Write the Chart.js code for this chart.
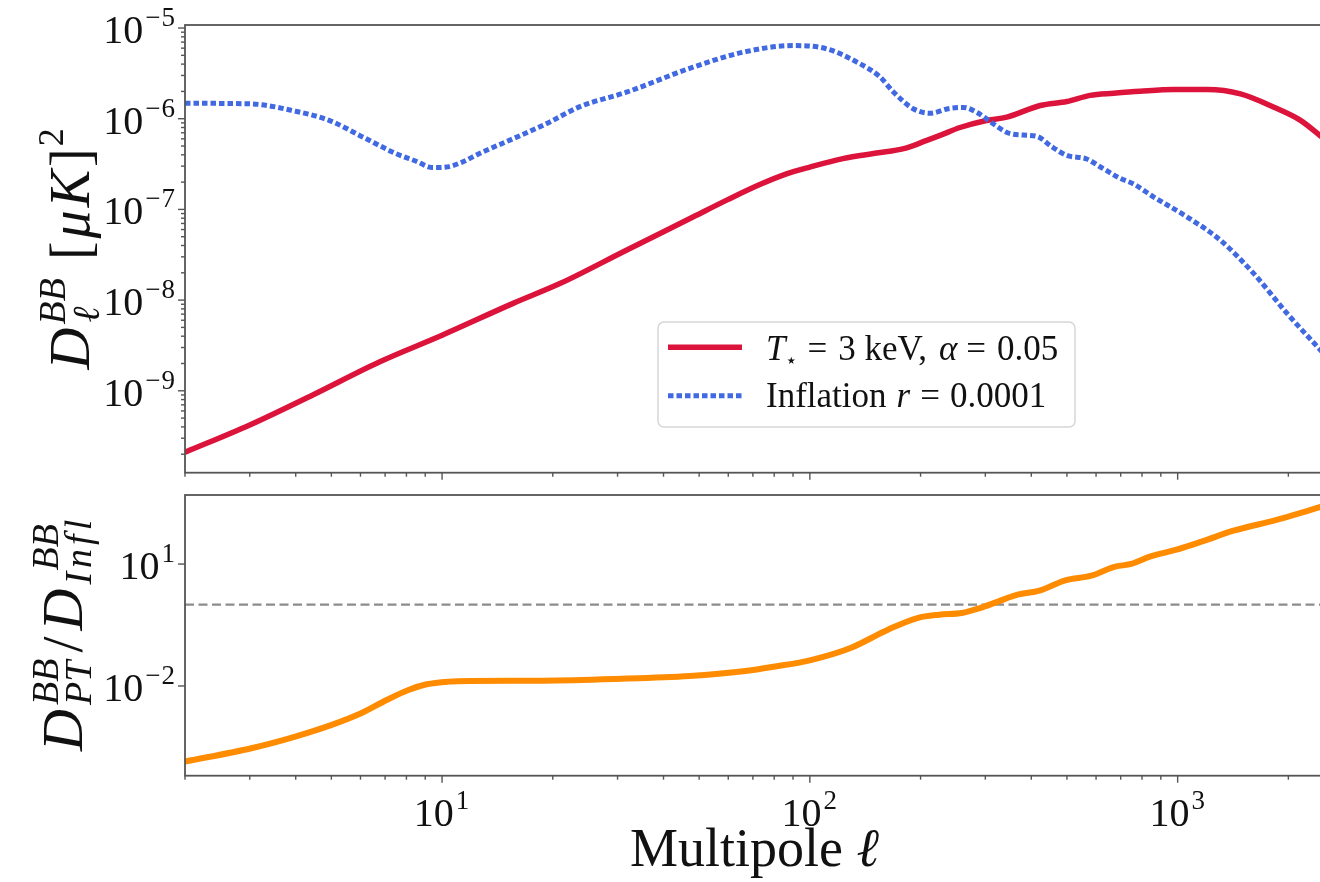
<!DOCTYPE html>
<html lang="en">

<head>
    <meta charset="UTF-8">
    <meta name="viewport" content="width=device-width, initial-scale=1.0">
    <title>BB spectra | phase transition vs inflation</title>

    <script src="https://cdn.jsdelivr.net/npm/chart.js"></script>

    <style>
        html, body { margin: 0; padding: 0; background: #fff; overflow: hidden; }
        #figura { position: relative; width: 1320px; height: 882px; overflow: hidden; }
        .painel { position: absolute; left: 0; width: 1324px; }
        #painelTopo { top: 0; height: 485px; }
        #painelBase { top: 480px; height: 402px; }
    </style>
</head>

<body>
    <div id="figura">
        <div class="painel" id="painelTopo"><canvas id="graficoTopo"></canvas></div>
        <div class="painel" id="painelBase"><canvas id="graficoBase"></canvas></div>
    </div>

<script>
// ---- data ----
const ellMin = 2, ellMax = 2500;

// D_l^BB for the phase transition (T* = 3 keV, alpha = 0.05)
const ellPT = [2, 3, 4.45, 6.75, 10, 15.6, 20.9, 31.7, 48.1, 60, 73.1, 86, 100, 123, 152, 180, 208, 226, 256, 300, 343, 423, 500, 578, 670, 791, 975, 1202, 1482, 1827, 2158, 2500];
const dlPT = [2.1e-10, 4.2e-10, 9.0e-10, 2.08e-9, 4.1e-9, 9.2e-9, 1.52e-8, 3.55e-8, 8.24e-8, 1.29e-7, 1.88e-7, 2.45e-7, 2.93e-7, 3.63e-7, 4.18e-7, 4.67e-7, 5.77e-7, 6.55e-7, 8.0e-7, 9.5e-7, 1.04e-6, 1.40e-6, 1.55e-6, 1.81e-6, 1.91e-6, 2.01e-6, 2.1e-6, 2.1e-6, 1.88e-6, 1.34e-6, 9.6e-7, 6.0e-7];

// D_l^BB for inflation, r = 0.0001
const ellInfl = [2, 3, 4, 4.93, 6.08, 7.5, 8.5, 9.43, 10.25, 11.3, 12.6, 15.6, 19.2, 23.7, 31.7, 48.1, 65.8, 90, 111, 137, 155, 169, 191, 212, 240, 262, 285, 315, 345, 380, 414, 455, 500, 566, 620, 698, 760, 861, 1062, 1307, 1611, 1986, 2500];
const dlInfl = [1.48e-6, 1.46e-6, 1.21e-6, 9.6e-7, 6.3e-7, 4.12e-7, 3.4e-7, 2.89e-7, 2.93e-7, 3.3e-7, 4.12e-7, 6.02e-7, 8.8e-7, 1.36e-6, 1.96e-6, 3.7e-6, 5.41e-6, 6.41e-6, 5.9e-6, 4.03e-6, 2.9e-6, 1.96e-6, 1.29e-6, 1.15e-6, 1.3e-6, 1.33e-6, 1.17e-6, 8.8e-7, 7.0e-7, 6.6e-7, 6.4e-7, 4.9e-7, 3.94e-7, 3.6e-7, 2.9e-7, 2.2e-7, 1.9e-7, 1.37e-7, 8.24e-8, 4.57e-8, 1.96e-8, 7.1e-9, 2.55e-9];

// ratio D_PT / D_Infl
const ellRatio = [2, 3.03, 3.99, 5.01, 6.02, 7.07, 8.1, 9.08, 10.4, 11.9, 18.9, 29.8, 47.1, 66, 81.2, 100, 129, 163, 196, 225, 259, 290, 326, 367, 421, 495, 582, 669, 752, 844, 993, 1167, 1419, 1857, 2200, 2500];
const ratioPT = [1.38e-4, 2.93e-4, 5.67e-4, 1.10e-3, 2.13e-3, 4.53e-3, 7.98e-3, 1.10e-2, 1.28e-2, 1.33e-2, 1.35e-2, 1.49e-2, 1.76e-2, 2.3e-2, 3.05e-2, 4.28e-2, 8.6e-2, 0.243, 0.47, 0.568, 0.624, 0.828, 1.21, 1.76, 2.21, 3.97, 5.16, 8.44, 10.2, 15.4, 22.5, 36, 66, 122, 190, 270];
const nivelRef = 1;

// axes
const xMajorTicks = [10, 100, 1000];
const topoYMajorTicks = [1e-9, 1e-8, 1e-7, 1e-6, 1e-5];
const baseYMajorTicks = [1e-2, 1e1];
const topoYRange = [1.25e-10, 1.08e-5];
const baseYRange = [6.2e-5, 500];

const labelsLegenda = ['T⋆ = 3 keV, α = 0.05', 'Inflation r = 0.0001'];

// ---- helpers ----
const SERIF = '"Liberation Serif", "DejaVu Serif", serif';
const TINTA = '#111';
const EIXO = '#555';
const VERMELHO = '#DC143C', AZUL = '#4169E1', LARANJA = '#FF8C00';

function pontos(xs, ys) {
    return xs.map(function (x, i) { return { x: x, y: ys[i] }; });
}

function fonte(size, it) {
    return (it ? 'italic ' : '') + size + 'px ' + SERIF;
}

function larguraRun(ctx, r) {
    if (r.stack) return Math.max.apply(null, r.stack.map(function (s) { return larguraRun(ctx, s) + (s.pre || 0); })) + (r.gap || 0);
    ctx.font = fonte(r.size, r.it);
    let w = ctx.measureText(r.t).width;
    if (r.ls) w += r.ls * (r.t.length - 1);
    return w + (r.gap || 0);
}

function desenhaRun(ctx, r, x, y) {
    if (r.stack) { r.stack.forEach(function (s) { desenhaRun(ctx, s, x + (s.pre || 0), y); }); return; }
    ctx.font = fonte(r.size, r.it);
    if (r.ls) {
        let cx = x;
        for (const ch of r.t) { ctx.fillText(ch, cx, y + (r.dy || 0)); cx += ctx.measureText(ch).width + r.ls; }
    } else {
        ctx.fillText(r.t, x, y + (r.dy || 0));
    }
}

function desenhaTexto(ctx, runs, x, y, align) {
    const ws = runs.map(function (r) { return larguraRun(ctx, r) + (r.stack ? 0 : (r.pre || 0)); });
    const total = ws.reduce(function (a, b) { return a + b; }, 0);
    let cx = align === 'center' ? x - total / 2 : (align === 'right' ? x - total : x);
    ctx.textAlign = 'left';
    ctx.textBaseline = 'alphabetic';
    ctx.fillStyle = TINTA;
    runs.forEach(function (r, i) { desenhaRun(ctx, r, cx + (r.stack ? 0 : (r.pre || 0)), y); cx += ws[i]; });
}

function potencia(v) {
    const e = Math.round(Math.log10(v));
    const runs = [{ t: '10', size: 40 }];
    if (e < 0) runs.push({ t: '−', size: 27, dy: -17, pre: 2, gap: 1 });
    runs.push({ t: String(Math.abs(e)), size: 27, dy: -17, pre: e < 0 ? 0 : 2, gap: 1 });
    return runs;
}

function marcas(min, max) {
    const out = [];
    for (let e = Math.floor(Math.log10(min)); e <= Math.ceil(Math.log10(max)); e++) {
        for (let m = 1; m < 10; m++) {
            const v = m * Math.pow(10, e);
            if (v >= min * 0.999 && v <= max * 1.001) out.push({ v: v, major: m === 1 });
        }
    }
    return out;
}

function traco(ctx, x1, y1, x2, y2) {
    ctx.beginPath(); ctx.moveTo(x1, y1); ctx.lineTo(x2, y2); ctx.stroke();
}

function desenhaEixos(chart, yMinor, yMajorList) {
    const ctx = chart.ctx, a = chart.chartArea, x = chart.scales.x, y = chart.scales.y;
    ctx.save();
    ctx.strokeStyle = EIXO;
    ctx.lineWidth = 1.4;
    marcas(x.min, x.max).forEach(function (t) {
        const px = x.getPixelForValue(t.v);
        traco(ctx, px, a.bottom, px, a.bottom + (t.major ? 7 : 4));
    });
    if (yMinor) {
        marcas(y.min, y.max).forEach(function (t) {
            const py = y.getPixelForValue(t.v);
            traco(ctx, a.left, py, a.left - (t.major ? 7 : 4), py);
        });
    } else {
        yMajorList.forEach(function (v) {
            const py = y.getPixelForValue(v);
            traco(ctx, a.left, py, a.left - 7, py);
        });
    }
    ctx.lineWidth = 1.8;
    ctx.strokeRect(a.left, a.top, a.right - a.left, a.bottom - a.top);
    yMajorList.forEach(function (v) {
        desenhaTexto(ctx, potencia(v), a.left - 9, y.getPixelForValue(v) + 15, 'right');
    });
    ctx.restore();
}

function tituloVertical(ctx, runs, bx, cy) {
    ctx.save();
    ctx.translate(bx, cy);
    ctx.rotate(-Math.PI / 2);
    desenhaTexto(ctx, runs, 0, 0, 'center');
    ctx.restore();
}

function configBase(datasets, yRange, padTop, xHeight, plugin) {
    return {
        type: 'line',
        data: { datasets: datasets },
        options: {
            responsive: true,
            maintainAspectRatio: false,
            animation: false,
            events: [],
            layout: { padding: { top: padTop, left: 0, right: 0, bottom: 0 } },
            plugins: { legend: { display: false }, tooltip: { enabled: false } },
            scales: {
                x: {
                    type: 'logarithmic', min: ellMin, max: ellMax,
                    grid: { display: false }, border: { display: false }, ticks: { display: false },
                    afterFit: function (s) { s.height = xHeight; }
                },
                y: {
                    type: 'logarithmic', min: yRange[0], max: yRange[1],
                    grid: { display: false }, border: { display: false }, ticks: { display: false },
                    afterFit: function (s) { s.width = 185; }
                }
            }
        },
        plugins: [plugin]
    };
}

// ---- top panel ----
const pluginTopo = {
    id: 'decorTopo',
    afterDatasetsDraw: function (chart) {
        const ctx = chart.ctx, a = chart.chartArea;
        desenhaEixos(chart, true, topoYMajorTicks);

        tituloVertical(ctx, [
            { t: 'D', it: true, size: 58, gap: 3 },
            { stack: [{ t: 'BB', it: true, size: 38, dy: -24 }, { t: 'ℓ', it: true, size: 38, dy: 10, pre: 2 }], gap: 18 },
            { t: '[', size: 56, gap: 3 },
            { t: 'μ', it: true, size: 56, gap: 3 },
            { t: 'K', it: true, size: 56, gap: 3 },
            { t: ']', size: 56, gap: 2 },
            { t: '2', size: 36, dy: -26 }
        ], 89, (a.top + a.bottom) / 2);

        // legend
        ctx.save();
        const lx = 658, ly = 322, lw = 417, lh = 105;
        ctx.beginPath();
        ctx.roundRect(lx, ly, lw, lh, 6);
        ctx.fillStyle = 'rgba(255,255,255,0.85)';
        ctx.fill();
        ctx.strokeStyle = '#d6d6d6';
        ctx.lineWidth = 1.5;
        ctx.stroke();

        ctx.lineCap = 'butt';
        ctx.strokeStyle = VERMELHO;
        ctx.lineWidth = 5.5;
        traco(ctx, 668, 347.3, 742, 347.3);
        ctx.strokeStyle = AZUL;
        ctx.lineWidth = 5;
        ctx.setLineDash([5.5, 3]);
        traco(ctx, 668, 395.7, 742, 395.7);
        ctx.setLineDash([]);

        desenhaTexto(ctx, [
            { t: 'T', it: true, size: 35 },
            { t: '⋆', size: 20, dy: 7, gap: 9 },
            { t: '=', size: 35, gap: 11 },
            { t: '3 keV,', size: 35, gap: 12 },
            { t: 'α', it: true, size: 35, gap: 9 },
            { t: '=', size: 35, gap: 11 },
            { t: '0.05', size: 35 }
        ], 766, 360, 'left');
        desenhaTexto(ctx, [
            { t: 'Inflation', size: 35, gap: 10 },
            { t: 'r', it: true, size: 35, gap: 10 },
            { t: '=', size: 35, gap: 10 },
            { t: '0.0001', size: 35 }
        ], 766, 406.7, 'left');
        ctx.restore();
    }
};

new Chart(document.getElementById('graficoTopo'), configBase([
    {
        label: labelsLegenda[1], data: pontos(ellInfl, dlInfl),
        borderColor: AZUL, borderWidth: 5, borderDash: [5.5, 3], borderCapStyle: 'butt',
        pointRadius: 0, fill: false, cubicInterpolationMode: 'monotone', clip: 0
    },
    {
        label: labelsLegenda[0], data: pontos(ellPT, dlPT),
        borderColor: VERMELHO, borderWidth: 5.5,
        pointRadius: 0, fill: false, cubicInterpolationMode: 'monotone', clip: 0
    }
], topoYRange, 25, 12.3, pluginTopo));

// ---- bottom panel ----
const pluginBase = {
    id: 'decorBase',
    afterDatasetsDraw: function (chart) {
        const ctx = chart.ctx, a = chart.chartArea, x = chart.scales.x;
        desenhaEixos(chart, false, baseYMajorTicks);

        xMajorTicks.forEach(function (v) {
            desenhaTexto(ctx, potencia(v), x.getPixelForValue(v), 346, 'center');
        });

        desenhaTexto(ctx, [
            { t: 'Multipole ', size: 54 },
            { t: 'ℓ', it: true, size: 54 }
        ], (a.left + a.right) / 2, 386, 'center');

        tituloVertical(ctx, [
            { t: 'D', it: true, size: 58, gap: 4 },
            { stack: [{ t: 'BB', it: true, size: 38, dy: -24 }, { t: 'PT', it: true, size: 38, dy: 9 }], gap: 6 },
            { t: '/', size: 58, gap: 6 },
            { t: 'D', it: true, size: 58, gap: 4 },
            { stack: [{ t: 'BB', it: true, size: 38, dy: -24, pre: 14 }, { t: 'Infl', it: true, size: 38, dy: 9, ls: 4 }] }
        ], 82, (a.top + a.bottom) / 2);
    }
};

new Chart(document.getElementById('graficoBase'), configBase([
    {
        label: 'ratio', data: pontos(ellRatio, ratioPT),
        borderColor: LARANJA, borderWidth: 6,
        pointRadius: 0, fill: false, cubicInterpolationMode: 'monotone', clip: 0
    },
    {
        label: 'ref', data: [{ x: ellMin, y: nivelRef }, { x: ellMax, y: nivelRef }],
        borderColor: '#8c8c8c', borderWidth: 2.2, borderDash: [9, 4.5],
        pointRadius: 0, fill: false, tension: 0, clip: 0
    }
], baseYRange, 15, 106.3, pluginBase));
</script>
</body>

</html>
